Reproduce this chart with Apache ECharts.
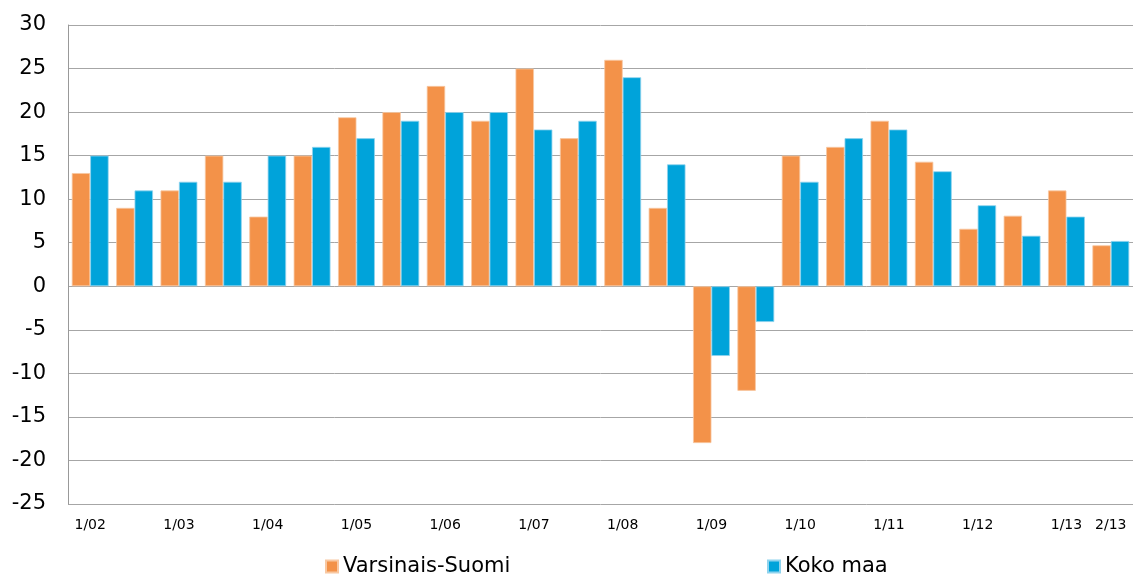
<!DOCTYPE html>
<html>
<head>
<meta charset="utf-8">
<script src="https://cdn.jsdelivr.net/npm/echarts@6/dist/echarts.min.js"></script>
<style>
html,body{margin:0;padding:0;background:#fff;}
#chart{width:1133px;height:575px;}
</style>
</head>
<body>
<div id="chart"></div>
<script>
// puolivuosittain 1/02 ... 2/13
var categories = ['1/02','2/02','1/03','2/03','1/04','2/04','1/05','2/05','1/06','2/06','1/07','2/07',
  '1/08','2/08','1/09','2/09','1/10','2/10','1/11','2/11','1/12','2/12','1/13','2/13'];
var varsinaisSuomi = [13, 9, 11, 15, 8, 15, 19.4, 20, 23, 19, 25, 17, 26, 9, -18, -12, 15, 16, 19, 14.3, 6.6, 8.1, 11, 4.7];
var kokoMaa = [15, 11, 12, 12, 15, 16, 17, 19, 20, 20, 18, 19, 24, 14, -8, -4.1, 12, 17, 18, 13.2, 9.3, 5.8, 8, 5.2];

var font = 'DejaVu Sans';
var chart = echarts.init(document.getElementById('chart'));
chart.setOption({
  animation: false,
  textStyle: {fontFamily: font},
  grid: {left: 68, right: 0, top: 25, bottom: 71},
  legend: [
    {data: ['Varsinais-Suomi'], left: 320, top: 551, itemWidth: 12, itemHeight: 12, itemGap: 6,
     icon: 'rect', textStyle: {fontSize: 21, color: '#000', fontFamily: font}},
    {data: ['Koko maa'], left: 762, top: 551, itemWidth: 12, itemHeight: 12, itemGap: 6,
     icon: 'rect', textStyle: {fontSize: 21, color: '#000', fontFamily: font}}
  ],
  xAxis: {
    type: 'category',
    data: categories,
    axisLine: {show: false},
    axisTick: {show: false},
    axisLabel: {
      interval: function (i) { return i % 2 === 0 || i === categories.length - 1; },
      fontSize: 14, color: '#000', margin: 14
    }
  },
  yAxis: {
    type: 'value',
    min: -25, max: 30, interval: 5,
    axisLine: {show: true, lineStyle: {color: '#999'}},
    axisTick: {show: false},
    axisLabel: {fontSize: 21, color: '#000', margin: 22},
    splitLine: {lineStyle: {color: '#a6a6a6', width: 1}}
  },
  series: [
    {name: 'Varsinais-Suomi', type: 'bar', data: varsinaisSuomi, barGap: '0%', barCategoryGap: '17%',
     itemStyle: {color: '#F39249', borderColor: '#f8c8a2', borderWidth: 0.8}},
    {name: 'Koko maa', type: 'bar', data: kokoMaa, barGap: '0%', barCategoryGap: '17%',
     itemStyle: {color: '#00A3DA', borderColor: '#8fd3ee', borderWidth: 0.8}}
  ]
});
</script>
</body>
</html>
